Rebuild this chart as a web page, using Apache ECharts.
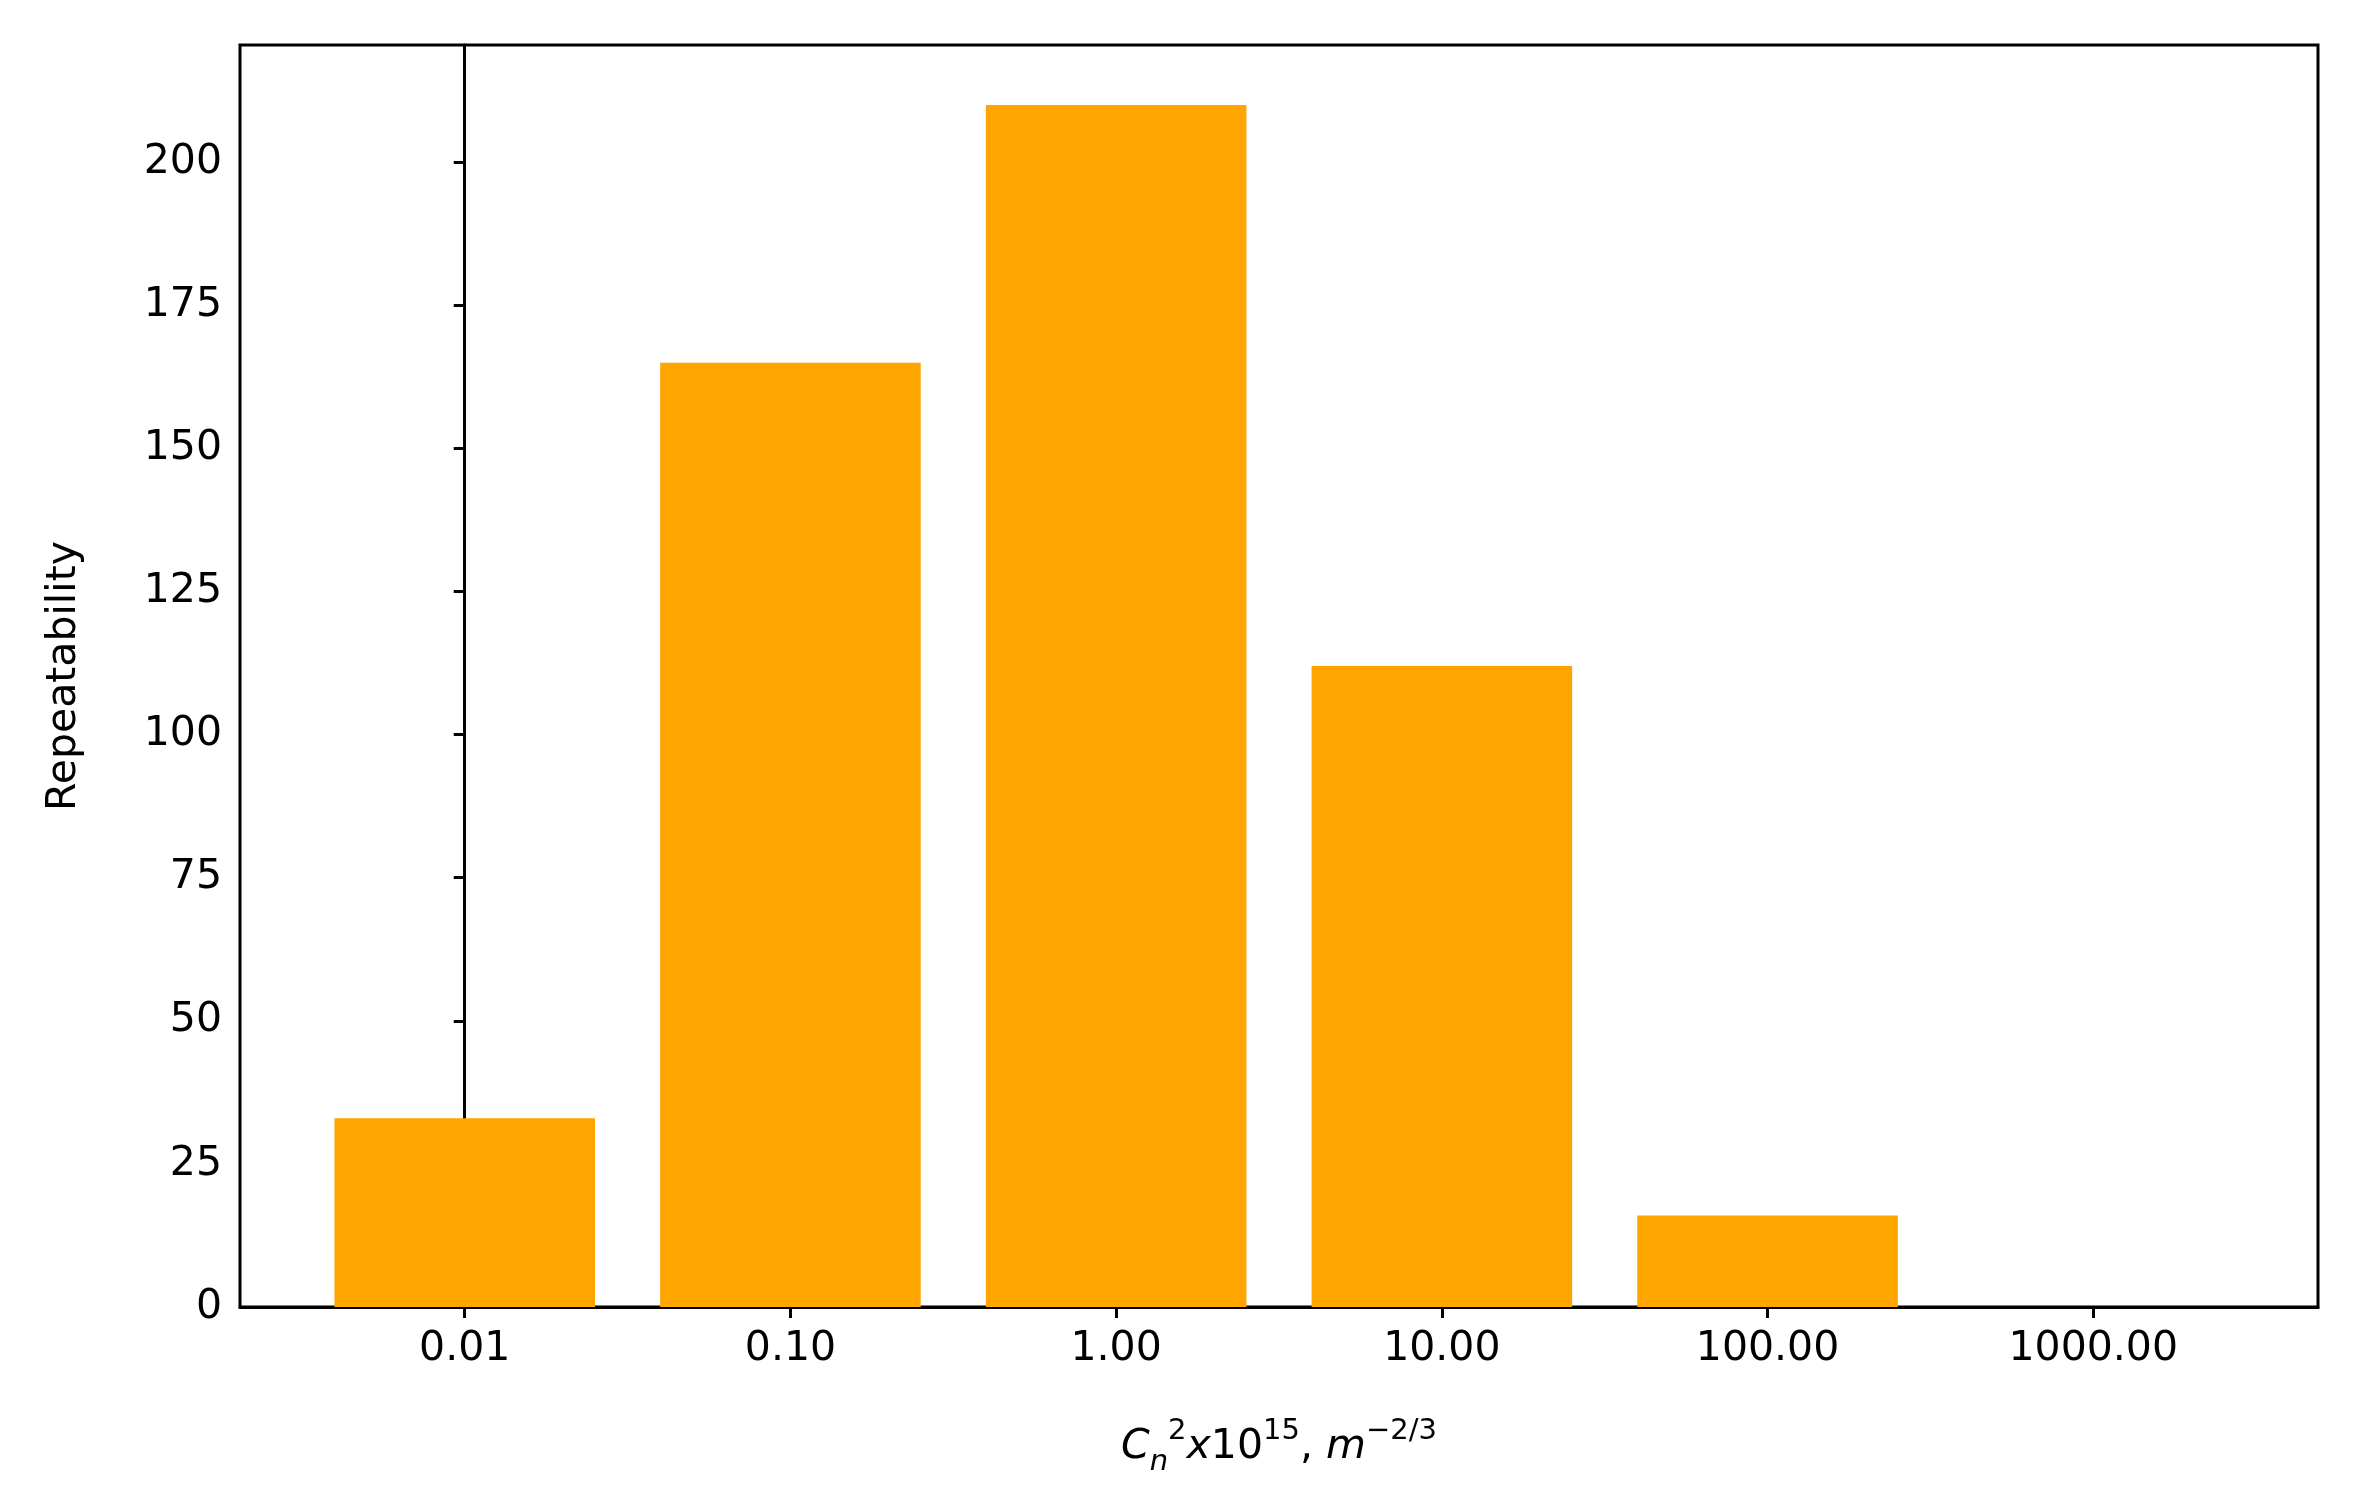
<!DOCTYPE html>
<html>
<head>
<meta charset="utf-8">
<script src="https://cdn.jsdelivr.net/npm/echarts@6/dist/echarts.min.js"></script>
<style>html,body{margin:0;padding:0;background:#fff}#main{width:2354px;height:1508px}</style>
</head>
<body>
<div id="main"></div>
<script>
var categories = ['0.01', '0.10', '1.00', '10.00', '100.00', '1000.00'];
var values = [33, 165, 210, 112, 16, 0];
var yTicks = [0, 25, 50, 75, 100, 125, 150, 175, 200];

var gridLeft = 240, gridRight = 36, gridTop = 45, gridBottom = 201;
var xMin = -0.69, xMax = 5.69;
var unit = (2354 - gridLeft - gridRight) / (xMax - xMin);

var myChart = echarts.init(document.getElementById('main'));
var font = 'DejaVu Sans';
var option = {
    animation: false,
    backgroundColor: '#fff',
    grid: {
        left: gridLeft, right: gridRight, top: gridTop, bottom: gridBottom,
        show: true, borderColor: '#000', borderWidth: 3, backgroundColor: 'transparent'
    },
    xAxis: {
        type: 'value',
        min: xMin,
        max: xMax,
        splitLine: {show: false},
        axisLine: {lineStyle: {color: '#000', width: 3}},
        axisTick: {customValues: [0, 1, 2, 3, 4, 5], length: 11, lineStyle: {color: '#000', width: 3}},
        axisLabel: {
            customValues: [0, 1, 2, 3, 4, 5],
            color: '#000', fontFamily: font, fontSize: 41, margin: 22,
            formatter: function (v) { return categories[Math.round(v)]; }
        },
        name: '{it|C}{sub|n}{sup|2}{it|x}{n|10}{sup|15}{n|, }{it|m}{sup|−2/3}',
        nameLocation: 'middle',
        nameGap: 110,
        nameTextStyle: {
            fontFamily: font,
            rich: {
                it: {fontSize: 41, fontStyle: 'italic', fontFamily: font, color: '#000', verticalAlign: 'middle', lineHeight: 60},
                n: {fontSize: 41, fontFamily: font, color: '#000', verticalAlign: 'middle', lineHeight: 60},
                sup: {fontSize: 29, fontFamily: font, color: '#000', verticalAlign: 'top', lineHeight: 60},
                sub: {fontSize: 29, fontStyle: 'italic', fontFamily: font, color: '#000', verticalAlign: 'bottom', lineHeight: 60}
            }
        }
    },
    yAxis: {
        type: 'value',
        min: 0,
        max: 220.5,
        interval: 25,
        splitLine: {show: false},
        axisLine: {show: true, lineStyle: {color: '#000', width: 3}},
        axisTick: {show: true, length: 11, customValues: yTicks, lineStyle: {color: '#000', width: 3}},
        axisLabel: {customValues: yTicks, color: '#000', fontFamily: font, fontSize: 41, margin: 18},
        name: 'Repeatability',
        nameLocation: 'middle',
        nameGap: 155,
        nameTextStyle: {color: '#000', fontFamily: font, fontSize: 41}
    },
    series: [{
        type: 'bar',
        data: values.map(function (v, i) { return [i, v]; }),
        barWidth: 0.8 * unit,
        itemStyle: {color: '#ffa500'}
    }]
};
myChart.setOption(option);
</script>
</body>
</html>
